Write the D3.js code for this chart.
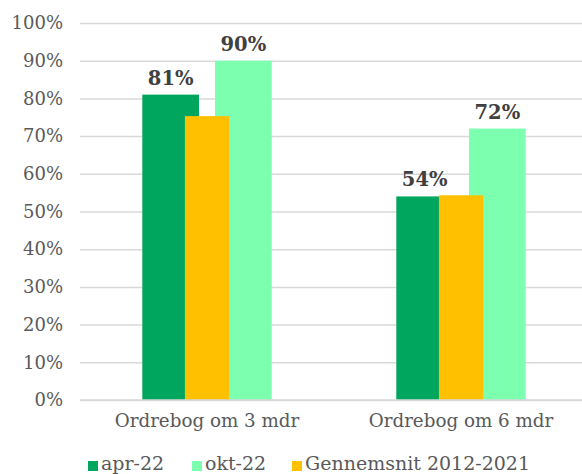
<!DOCTYPE html>
<meta charset='utf-8'>
<style>
	body { margin: 0; background: #fff; }
	svg { display: block; font-family: 'DejaVu Serif', serif; }
</style>
<body>
<div id='container'></div>
<script src='https://cdnjs.cloudflare.com/ajax/libs/d3/7.8.5/d3.min.js'></script>
<script>
	const categories = [ 'Ordrebog om 3 mdr', 'Ordrebog om 6 mdr' ];
	const seriesNames = [ 'apr-22', 'okt-22', 'Gennemsnit 2012-2021' ];
	const apr22 = [ 0.81, 0.54 ];
	const okt22 = [ 0.90, 0.72 ];
	const avg = [ 0.753, 0.543 ];
	const yTicks = [ 0, 0.1, 0.2, 0.3, 0.4, 0.5, 0.6, 0.7, 0.8, 0.9, 1 ];

	const W = 582, H = 474;
	const plot = { left: 80, right: 588, top: 23, bottom: 400 };
	const colors = { 'apr-22': '#00a65d', 'okt-22': '#7dffb0', 'Gennemsnit 2012-2021': '#ffc000' };

	const svg = d3.select( '#container' ).append( 'svg' )
		.attr( 'width', W )
		.attr( 'height', H );

	const y = d3.scaleLinear().domain( [0, 1] ).range( [plot.bottom, plot.top] );
	const x0 = d3.scaleBand().domain( categories ).range( [plot.left, plot.right] );
	const x1 = d3.scaleBand().domain( [ 'apr-22', 'okt-22' ] )
		.range( [0, x0.bandwidth()] )
		.paddingInner( 0.22 )
		.paddingOuter( 0.857 );
	const avgWidth = x0.bandwidth() * 0.174;

	// gridlines + y labels
	const yAxis = d3.axisLeft( y )
		.tickValues( yTicks )
		.tickFormat( d3.format( '.0%' ) )
		.tickSize( -( plot.right - plot.left ) )
		.tickPadding( 17 );

	const yAxisEl = svg.append( 'g' )
		.attr( 'transform', `translate( ${plot.left}, 0 )` )
		.call( yAxis );
	yAxisEl.select( '.domain' ).remove();
	yAxisEl.selectAll( '.tick line' )
		.attr( 'stroke', '#d9d9d9' )
		.attr( 'stroke-width', 1.5 );
	yAxisEl.selectAll( '.tick text' )
		.attr( 'fill', '#595959' )
		.style( 'font-size', '18px' )
		.style( 'font-family', 'DejaVu Serif' );

	const rows = categories.map( ( c, i ) => ( {
		cat: c,
		vals: [
			{ name: 'apr-22', value: apr22[i] },
			{ name: 'okt-22', value: okt22[i] },
		],
		avg: avg[i],
	} ) );

	const groups = svg.append( 'g' ).selectAll( 'g' )
		.data( rows )
		.enter().append( 'g' )
			.attr( 'transform', d => `translate( ${x0( d.cat )}, 0 )` );

	groups.selectAll( 'rect.main' )
		.data( d => d.vals )
		.enter().append( 'rect' )
			.attr( 'class', 'main' )
			.attr( 'x', d => x1( d.name ) )
			.attr( 'width', x1.bandwidth() )
			.attr( 'y', d => y( d.value ) )
			.attr( 'height', d => y( 0 ) - y( d.value ) )
			.style( 'fill', d => colors[ d.name ] );

	groups.append( 'rect' )
		.attr( 'x', x0.bandwidth() / 2 - avgWidth / 2 )
		.attr( 'width', avgWidth )
		.attr( 'y', d => y( d.avg ) )
		.attr( 'height', d => y( 0 ) - y( d.avg ) )
		.style( 'fill', colors[ 'Gennemsnit 2012-2021' ] );

	groups.selectAll( 'text.lbl' )
		.data( d => d.vals )
		.enter().append( 'text' )
			.attr( 'class', 'lbl' )
			.attr( 'x', d => x1( d.name ) + x1.bandwidth() / 2 )
			.attr( 'y', d => y( d.value ) - 10 )
			.attr( 'text-anchor', 'middle' )
			.style( 'font-size', '19.5px' )
			.style( 'font-weight', 'bold' )
			.style( 'fill', '#404040' )
			.text( d => d3.format( '.0%' )( d.value ) );

	// baseline + category labels
	svg.append( 'line' )
		.attr( 'x1', plot.left ).attr( 'x2', plot.right )
		.attr( 'y1', y( 0 ) ).attr( 'y2', y( 0 ) )
		.attr( 'stroke', '#d9d9d9' )
		.attr( 'stroke-width', 1.5 );

	svg.append( 'g' ).selectAll( 'text' )
		.data( categories )
		.enter().append( 'text' )
			.attr( 'x', d => x0( d ) + x0.bandwidth() / 2 )
			.attr( 'y', 427 )
			.attr( 'text-anchor', 'middle' )
			.style( 'font-size', '18.3px' )
			.style( 'fill', '#595959' )
			.text( d => d );

	// legend
	const legendX = [ 88, 192, 292 ];
	const legend = svg.append( 'g' ).selectAll( 'g' )
		.data( seriesNames )
		.enter().append( 'g' )
			.attr( 'transform', ( d, i ) => `translate( ${legendX[i]}, 0 )` );

	legend.append( 'rect' )
		.attr( 'x', 0 )
		.attr( 'y', 461 )
		.attr( 'width', 10 )
		.attr( 'height', 10 )
		.style( 'fill', d => colors[ d ] );

	legend.append( 'text' )
		.attr( 'x', 13 )
		.attr( 'y', 469.5 )
		.style( 'font-size', '19px' )
		.style( 'fill', '#595959' )
		.text( d => d );
</script>
</body>
